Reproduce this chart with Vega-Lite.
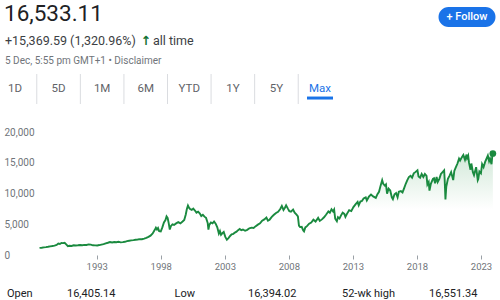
{
  "$schema": "https://vega.github.io/schema/vega-lite/v6.json",
  "padding": 0,
  "spacing": 0,
  "bounds": "flush",
  "config": {"view": {"stroke": null}, "font": "Roboto", "text": {"font": "Roboto"}},
  "vconcat": [
    {
      "width": 500, "height": 34,
      "data": {"values": [{"item": "price", "label": "16,533.11"}, {"item": "follow", "label": "+ Follow"}]},
      "encoding": {"x": {"field": "item", "type": "nominal", "scale": {"type": "point", "domain": ["price", "follow"], "range": [4, 467], "padding": 0}, "axis": null}},
      "layer": [
        {"transform": [{"filter": "datum.item === 'price'"}], "mark": {"type": "text", "align": "left", "fontSize": 22.5, "color": "#202124", "dy": -3}, "encoding": {"text": {"field": "label"}}},
        {"transform": [{"filter": "datum.item === 'follow'"}], "mark": {"type": "point", "shape": "M-0.649,-0.351L0.649,-0.351A0.351,0.351,0,0,1,0.649,0.351L-0.649,0.351A0.351,0.351,0,0,1,-0.649,-0.351Z", "size": 3249, "filled": true, "color": "#1a73e8", "opacity": 1}},
        {"transform": [{"filter": "datum.item === 'follow'"}], "mark": {"type": "text", "fontSize": 11, "fontWeight": 500, "color": "#ffffff"}, "encoding": {"text": {"field": "label"}}}
      ]
    },
    {
      "width": 500, "height": 40,
      "data": {"values": [
        {"slot": "a", "row": "change", "part": "text", "label": "+15,369.59 (1,320.96%)"},
        {"slot": "b", "row": "change", "part": "text", "label": "all time"},
        {"slot": "b", "row": "change", "part": "arrow", "label": "↑"},
        {"slot": "a", "row": "date", "part": "date", "label": "5 Dec, 5:55 pm GMT+1 • Disclaimer"}
      ]},
      "encoding": {
        "x": {"field": "slot", "type": "nominal", "scale": {"type": "point", "domain": ["a", "b"], "range": [5, 153], "padding": 0}, "axis": null},
        "y": {"field": "row", "type": "nominal", "scale": {"type": "point", "domain": ["change", "date"], "range": [7, 27], "padding": 0}, "axis": null},
        "text": {"field": "label"}
      },
      "layer": [
        {"transform": [{"filter": "datum.part === 'text'"}], "mark": {"type": "text", "align": "left", "fontSize": 12.5, "color": "#3c4043"}},
        {"transform": [{"filter": "datum.part === 'arrow'"}], "mark": {"type": "text", "align": "center", "fontSize": 12.5, "fontWeight": "bold", "font": "DejaVu Sans", "color": "#137333", "dx": -7}},
        {"transform": [{"filter": "datum.part === 'date'"}], "mark": {"type": "text", "align": "left", "fontSize": 10, "color": "#70757a"}}
      ]
    },
    {
      "width": 500, "height": 30,
      "data": {"values": [{"tab": "1D"}, {"tab": "5D"}, {"tab": "1M"}, {"tab": "6M"}, {"tab": "YTD"}, {"tab": "1Y"}, {"tab": "5Y"}, {"tab": "Max"}]},
      "layer": [
        {"transform": [{"filter": "datum.tab !== '1D'"}], "mark": {"type": "tick", "size": 17, "thickness": 1, "color": "#dadce0", "opacity": 1},
         "encoding": {"x": {"field": "tab", "type": "nominal", "bandPosition": 0, "sort": null, "scale": {"type": "band", "domain": ["1D", "5D", "1M", "6M", "YTD", "1Y", "5Y", "Max"], "range": [-6.8, 341.8], "paddingInner": 0, "paddingOuter": 0}, "axis": null}}},
        {"mark": {"type": "text", "fontSize": 11.5},
         "encoding": {
           "x": {"field": "tab", "type": "nominal", "sort": null, "axis": null},
           "text": {"field": "tab"},
           "color": {"condition": {"test": "datum.tab === 'Max'", "value": "#1a73e8"}, "value": "#5f6368"}
         }},
        {"transform": [{"filter": "datum.tab === 'Max'"}], "mark": {"type": "point", "shape": "M-1,0.58L1,0.58L1,0.81L-1,0.81Z", "size": 676, "filled": true, "color": "#1a73e8", "opacity": 1},
         "encoding": {"x": {"field": "tab", "type": "nominal", "sort": null, "axis": null}}}
      ]
    },
    {
      "width": 497, "height": 151,
      "encoding": {
        "x": {"field": "d", "type": "temporal", "scale": {"type": "utc", "domain": [{"year": 1985, "month": 6, "date": 14, "utc": true}, {"year": 2024, "month": 4, "date": 1, "utc": true}]},
          "axis": {"values": [{"year": 1993, "utc": true}, {"year": 1998, "utc": true}, {"year": 2003, "utc": true}, {"year": 2008, "utc": true}, {"year": 2013, "utc": true}, {"year": 2018, "utc": true}, {"year": 2023, "utc": true}],
            "format": "%Y", "title": null, "domain": false, "grid": false, "ticks": true, "tickSize": 4, "tickColor": "#9aa0a6", "labelColor": "#70757a", "labelFontSize": 9.5, "labelPadding": 2, "labelFlush": false, "labelOverlap": false}},
        "y": {"field": "v", "type": "quantitative", "scale": {"domain": [0, 24600], "nice": false},
          "axis": {"values": [0, 5000, 10000, 15000, 20000], "format": ",d", "title": null, "domain": false, "grid": false, "ticks": false, "labelAlign": "left", "labelPadding": -4, "labelColor": "#70757a", "labelFontSize": 10, "labelBaseline": "middle"}}
      },
      "layer": [
        {"data": {"values": [{"v": 5000}, {"v": 10000}, {"v": 15000}, {"v": 20000}]},
         "mark": {"type": "rule", "color": "#eceef0", "strokeWidth": 1},
         "encoding": {"x": {"datum": {"year": 1988, "month": 3, "date": 8, "utc": true}, "type": "temporal"}, "x2": {"datum": {"year": 2024, "month": 4, "date": 1, "utc": true}}, "y": {"field": "v", "type": "quantitative"}}},
        {"data": {"values": [{"v": 0}]},
         "mark": {"type": "rule", "color": "#9aa0a6", "strokeWidth": 1},
         "encoding": {"x": {"datum": {"year": 1986, "month": 3, "date": 25, "utc": true}, "type": "temporal"}, "x2": {"datum": {"year": 2024, "month": 4, "date": 1, "utc": true}}, "y": {"field": "v", "type": "quantitative"}}},
        {"data": {"name": "series"},
         "mark": {"type": "area", "color": {"gradient": "linear", "x1": 0, "y1": 0, "x2": 0, "y2": 1, "stops": [{"offset": 0, "color": "rgba(30,142,62,0.2)"}, {"offset": 0.55, "color": "rgba(30,142,62,0)"}]}}},
        {"data": {"name": "series"}, "mark": {"type": "line", "color": "#1a8a3f", "strokeWidth": 1.9}},
        {"data": {"name": "series"}, "transform": [{"filter": {"field": "d", "equal": {"year": 2023, "month": 12, "date": 5, "utc": true}}}],
         "mark": {"type": "circle", "size": 45, "color": "#1a8a3f", "opacity": 1}}
      ]
    },
    {
      "width": 500, "height": 45,
      "data": {"values": [{"col": "c1", "label": "Open", "value": "16,405.14"}, {"col": "c2", "label": "Low", "value": "16,394.02"}, {"col": "c3", "label": "52-wk high", "value": "16,551.34"}]},
      "layer": [
        {"mark": {"type": "text", "align": "left", "fontSize": 11, "color": "#202124", "dy": 16},
         "encoding": {"x": {"field": "col", "type": "nominal", "scale": {"type": "point", "domain": ["c1", "c2", "c3"], "range": [7, 342], "padding": 0}, "axis": null}, "text": {"field": "label"}}},
        {"mark": {"type": "text", "align": "left", "fontSize": 11, "color": "#202124", "dy": 16},
         "encoding": {"x": {"field": "col", "type": "nominal", "scale": {"type": "point", "domain": ["c1", "c2", "c3"], "range": [67, 429], "padding": 0}, "axis": null}, "text": {"field": "value"}}}
      ],
      "resolve": {"scale": {"x": "independent"}}
    }
  ],
  "datasets": {
    "series": [
      {"d": "1988-07-15", "v": 1163}, {"d": "1988-09-15", "v": 1190}, {"d": "1988-11-15", "v": 1250},
      {"d": "1989-01-15", "v": 1290}, {"d": "1989-03-15", "v": 1340}, {"d": "1989-05-15", "v": 1400},
      {"d": "1989-07-15", "v": 1460}, {"d": "1989-09-15", "v": 1530}, {"d": "1989-11-15", "v": 1650},
      {"d": "1990-01-01", "v": 1870}, {"d": "1990-02-15", "v": 1800}, {"d": "1990-04-01", "v": 1960},
      {"d": "1990-05-15", "v": 1940}, {"d": "1990-07-01", "v": 1990}, {"d": "1990-08-15", "v": 1720},
      {"d": "1990-10-01", "v": 1430}, {"d": "1990-11-15", "v": 1500}, {"d": "1991-01-15", "v": 1470},
      {"d": "1991-03-15", "v": 1590}, {"d": "1991-05-15", "v": 1560}, {"d": "1991-07-15", "v": 1580},
      {"d": "1991-09-15", "v": 1620}, {"d": "1991-11-15", "v": 1600}, {"d": "1992-01-15", "v": 1650},
      {"d": "1992-03-15", "v": 1640}, {"d": "1992-05-15", "v": 1720}, {"d": "1992-07-15", "v": 1690},
      {"d": "1992-09-15", "v": 1580}, {"d": "1992-11-15", "v": 1570}, {"d": "1993-01-15", "v": 1560},
      {"d": "1993-03-15", "v": 1620}, {"d": "1993-05-15", "v": 1700}, {"d": "1993-07-15", "v": 1780},
      {"d": "1993-09-15", "v": 1900}, {"d": "1993-11-15", "v": 2000}, {"d": "1994-01-15", "v": 2120},
      {"d": "1994-03-15", "v": 2050}, {"d": "1994-05-15", "v": 2110}, {"d": "1994-07-15", "v": 2080},
      {"d": "1994-09-15", "v": 2160}, {"d": "1994-11-15", "v": 2060}, {"d": "1995-01-15", "v": 2090},
      {"d": "1995-03-15", "v": 2150}, {"d": "1995-05-15", "v": 2260}, {"d": "1995-07-15", "v": 2330},
      {"d": "1995-09-15", "v": 2380}, {"d": "1995-11-15", "v": 2420}, {"d": "1996-01-15", "v": 2480},
      {"d": "1996-03-15", "v": 2520}, {"d": "1996-05-15", "v": 2580}, {"d": "1996-07-15", "v": 2560},
      {"d": "1996-09-15", "v": 2660}, {"d": "1996-11-15", "v": 2780}, {"d": "1997-01-15", "v": 2950},
      {"d": "1997-03-15", "v": 3150}, {"d": "1997-05-15", "v": 3500}, {"d": "1997-07-15", "v": 4100},
      {"d": "1997-08-15", "v": 4450}, {"d": "1997-09-15", "v": 4150}, {"d": "1997-10-15", "v": 4400},
      {"d": "1997-11-15", "v": 3900}, {"d": "1998-01-01", "v": 3850}, {"d": "1998-02-15", "v": 4500},
      {"d": "1998-04-01", "v": 5300}, {"d": "1998-05-15", "v": 5700}, {"d": "1998-06-15", "v": 6300},
      {"d": "1998-07-15", "v": 6050}, {"d": "1998-08-15", "v": 5200}, {"d": "1998-09-15", "v": 4150},
      {"d": "1998-10-15", "v": 4700}, {"d": "1998-12-01", "v": 5000}, {"d": "1999-01-15", "v": 4900},
      {"d": "1999-03-15", "v": 5150}, {"d": "1999-05-15", "v": 5350}, {"d": "1999-07-15", "v": 5150},
      {"d": "1999-09-15", "v": 5450}, {"d": "1999-11-01", "v": 5700}, {"d": "1999-12-15", "v": 6600},
      {"d": "2000-01-15", "v": 7500}, {"d": "2000-02-15", "v": 8050}, {"d": "2000-03-15", "v": 7700},
      {"d": "2000-04-15", "v": 7500}, {"d": "2000-06-01", "v": 7350}, {"d": "2000-07-15", "v": 7550},
      {"d": "2000-09-01", "v": 7250}, {"d": "2000-10-15", "v": 6900}, {"d": "2000-12-01", "v": 7050},
      {"d": "2001-01-15", "v": 6800}, {"d": "2001-03-01", "v": 6350}, {"d": "2001-04-15", "v": 6550},
      {"d": "2001-06-01", "v": 6250}, {"d": "2001-07-15", "v": 6050}, {"d": "2001-09-01", "v": 5200},
      {"d": "2001-09-21", "v": 4150}, {"d": "2001-10-15", "v": 4900}, {"d": "2001-12-01", "v": 5300},
      {"d": "2002-01-15", "v": 5150}, {"d": "2002-03-01", "v": 5450}, {"d": "2002-04-15", "v": 5100},
      {"d": "2002-06-01", "v": 4500}, {"d": "2002-07-15", "v": 3500}, {"d": "2002-08-15", "v": 3900},
      {"d": "2002-09-15", "v": 3300}, {"d": "2002-10-15", "v": 3500}, {"d": "2002-12-01", "v": 3750},
      {"d": "2003-01-15", "v": 2950}, {"d": "2003-03-01", "v": 2480}, {"d": "2003-04-15", "v": 2750},
      {"d": "2003-06-01", "v": 3100}, {"d": "2003-07-15", "v": 3350}, {"d": "2003-09-01", "v": 3450},
      {"d": "2003-10-15", "v": 3650}, {"d": "2003-12-01", "v": 3800}, {"d": "2004-01-15", "v": 4050},
      {"d": "2004-03-01", "v": 4250}, {"d": "2004-04-15", "v": 4050}, {"d": "2004-06-01", "v": 4150},
      {"d": "2004-08-01", "v": 3950}, {"d": "2004-10-01", "v": 4100}, {"d": "2004-12-01", "v": 4350},
      {"d": "2005-02-01", "v": 4450}, {"d": "2005-04-01", "v": 4400}, {"d": "2005-06-01", "v": 4700},
      {"d": "2005-08-01", "v": 4950}, {"d": "2005-10-01", "v": 5150}, {"d": "2005-12-01", "v": 5600},
      {"d": "2006-02-01", "v": 5800}, {"d": "2006-04-01", "v": 6100}, {"d": "2006-05-15", "v": 5600},
      {"d": "2006-07-01", "v": 5750}, {"d": "2006-09-01", "v": 6200}, {"d": "2006-11-01", "v": 6550},
      {"d": "2007-01-01", "v": 6850}, {"d": "2007-03-01", "v": 7050}, {"d": "2007-05-01", "v": 7500},
      {"d": "2007-06-15", "v": 8000}, {"d": "2007-08-01", "v": 7350}, {"d": "2007-09-15", "v": 7750},
      {"d": "2007-10-15", "v": 8100}, {"d": "2007-12-01", "v": 7600}, {"d": "2008-01-15", "v": 7150},
      {"d": "2008-03-01", "v": 7050}, {"d": "2008-05-01", "v": 7400}, {"d": "2008-06-15", "v": 6900},
      {"d": "2008-08-01", "v": 6600}, {"d": "2008-09-15", "v": 6300}, {"d": "2008-10-15", "v": 4800},
      {"d": "2008-11-15", "v": 4550}, {"d": "2009-01-01", "v": 4600}, {"d": "2009-02-15", "v": 4000},
      {"d": "2009-03-09", "v": 3850}, {"d": "2009-04-15", "v": 4500}, {"d": "2009-06-01", "v": 4700},
      {"d": "2009-08-01", "v": 5100}, {"d": "2009-10-01", "v": 5300}, {"d": "2009-12-01", "v": 5750},
      {"d": "2010-02-01", "v": 5450}, {"d": "2010-04-15", "v": 6050}, {"d": "2010-06-01", "v": 5550},
      {"d": "2010-08-01", "v": 5800}, {"d": "2010-10-01", "v": 6150}, {"d": "2010-12-01", "v": 6600},
      {"d": "2011-02-01", "v": 7100}, {"d": "2011-03-15", "v": 6900}, {"d": "2011-05-01", "v": 7450},
      {"d": "2011-06-15", "v": 7100}, {"d": "2011-07-15", "v": 7400}, {"d": "2011-08-15", "v": 5900},
      {"d": "2011-10-01", "v": 5500}, {"d": "2011-11-01", "v": 6150}, {"d": "2011-12-15", "v": 5950},
      {"d": "2012-02-01", "v": 6500}, {"d": "2012-03-15", "v": 6900}, {"d": "2012-05-01", "v": 6700},
      {"d": "2012-06-01", "v": 6200}, {"d": "2012-07-15", "v": 6700}, {"d": "2012-09-15", "v": 7300},
      {"d": "2012-11-15", "v": 7150}, {"d": "2013-01-15", "v": 7800}, {"d": "2013-03-15", "v": 8250},
      {"d": "2013-05-15", "v": 8650}, {"d": "2013-06-15", "v": 8100}, {"d": "2013-08-01", "v": 8700},
      {"d": "2013-09-15", "v": 8800}, {"d": "2013-11-01", "v": 9200}, {"d": "2014-01-01", "v": 9400},
      {"d": "2014-02-01", "v": 8900}, {"d": "2014-04-01", "v": 9500}, {"d": "2014-06-01", "v": 9850},
      {"d": "2014-08-01", "v": 9550}, {"d": "2014-10-15", "v": 9300}, {"d": "2014-12-01", "v": 9900},
      {"d": "2015-01-15", "v": 10300}, {"d": "2015-03-01", "v": 11300}, {"d": "2015-04-15", "v": 12200},
      {"d": "2015-05-15", "v": 11600}, {"d": "2015-07-01", "v": 11300}, {"d": "2015-08-01", "v": 11500},
      {"d": "2015-09-01", "v": 10000}, {"d": "2015-10-15", "v": 10800}, {"d": "2015-12-01", "v": 10500},
      {"d": "2016-01-15", "v": 9400}, {"d": "2016-02-15", "v": 9100}, {"d": "2016-04-01", "v": 9900},
      {"d": "2016-05-15", "v": 10100}, {"d": "2016-06-27", "v": 9400}, {"d": "2016-08-01", "v": 10300},
      {"d": "2016-10-01", "v": 10400}, {"d": "2016-11-15", "v": 10200}, {"d": "2017-01-01", "v": 10900},
      {"d": "2017-02-15", "v": 11600}, {"d": "2017-04-01", "v": 12200}, {"d": "2017-05-15", "v": 12700},
      {"d": "2017-07-01", "v": 12900}, {"d": "2017-08-15", "v": 12600}, {"d": "2017-10-01", "v": 13300},
      {"d": "2017-11-15", "v": 13500}, {"d": "2018-01-15", "v": 13800}, {"d": "2018-02-15", "v": 12800},
      {"d": "2018-04-01", "v": 12600}, {"d": "2018-05-15", "v": 13200}, {"d": "2018-07-01", "v": 12700},
      {"d": "2018-08-15", "v": 13200}, {"d": "2018-10-01", "v": 12900}, {"d": "2018-10-25", "v": 11500},
      {"d": "2018-12-01", "v": 11900}, {"d": "2018-12-24", "v": 10500}, {"d": "2019-02-01", "v": 11600},
      {"d": "2019-04-01", "v": 12400}, {"d": "2019-05-01", "v": 12500}, {"d": "2019-06-01", "v": 11700},
      {"d": "2019-07-15", "v": 12700}, {"d": "2019-08-15", "v": 11900}, {"d": "2019-10-01", "v": 12400},
      {"d": "2019-11-15", "v": 13200}, {"d": "2020-01-01", "v": 13500}, {"d": "2020-02-15", "v": 13800},
      {"d": "2020-03-01", "v": 12300}, {"d": "2020-03-23", "v": 9050}, {"d": "2020-04-15", "v": 11100},
      {"d": "2020-06-01", "v": 12400}, {"d": "2020-07-15", "v": 12900}, {"d": "2020-09-01", "v": 13500},
      {"d": "2020-10-30", "v": 12200}, {"d": "2020-12-01", "v": 13700}, {"d": "2021-01-15", "v": 14300},
      {"d": "2021-03-01", "v": 14900}, {"d": "2021-04-15", "v": 15700}, {"d": "2021-05-15", "v": 15400},
      {"d": "2021-07-01", "v": 15900}, {"d": "2021-08-15", "v": 16300}, {"d": "2021-10-01", "v": 15500},
      {"d": "2021-11-15", "v": 16350}, {"d": "2021-12-01", "v": 15800}, {"d": "2021-12-31", "v": 16200},
      {"d": "2022-01-25", "v": 15000}, {"d": "2022-03-08", "v": 13900}, {"d": "2022-04-01", "v": 14900},
      {"d": "2022-05-15", "v": 13500}, {"d": "2022-06-16", "v": 13000}, {"d": "2022-08-15", "v": 14300},
      {"d": "2022-09-30", "v": 12200}, {"d": "2022-10-15", "v": 12400}, {"d": "2022-11-15", "v": 13600},
      {"d": "2022-12-30", "v": 13300}, {"d": "2023-02-01", "v": 14800}, {"d": "2023-03-15", "v": 14300},
      {"d": "2023-05-01", "v": 15200}, {"d": "2023-06-01", "v": 15600}, {"d": "2023-07-15", "v": 16200},
      {"d": "2023-08-20", "v": 15300}, {"d": "2023-09-15", "v": 15700}, {"d": "2023-10-27", "v": 14800},
      {"d": "2023-11-15", "v": 15900}, {"d": "2023-12-05", "v": 16533}
    ]
  }
}
